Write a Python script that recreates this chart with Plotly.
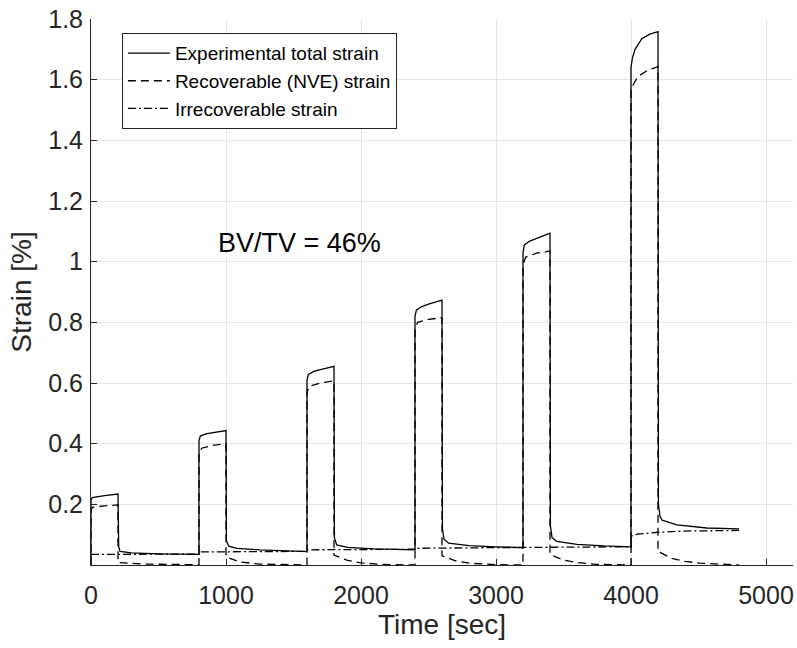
import plotly.graph_objects as go

# ---- data ----
t_total = [0, 0, 10, 50, 100, 200,
           200, 205, 215, 300, 500, 800,
           800, 810, 850, 900, 1000,
           1000, 1003, 1020, 1080, 1250, 1600,
           1600, 1610, 1650, 1700, 1800,
           1800, 1803, 1820, 1900, 2100, 2400,
           2400, 2410, 2450, 2500, 2600,
           2600, 2603, 2615, 2650, 2800, 3000, 3200,
           3200, 3210, 3250, 3300, 3400,
           3400, 3403, 3415, 3450, 3600, 3800, 4000,
           4000, 4010, 4030, 4080, 4140, 4200,
           4200, 4203, 4215, 4230, 4340, 4560, 4800]
e_total = [0.0, 0.215, 0.222, 0.226, 0.229, 0.234,
           0.234, 0.060, 0.045, 0.040, 0.037, 0.035,
           0.41, 0.425, 0.432, 0.436, 0.443,
           0.443, 0.080, 0.062, 0.055, 0.050, 0.044,
           0.61, 0.628, 0.638, 0.644, 0.655,
           0.655, 0.090, 0.066, 0.058, 0.053, 0.050,
           0.82, 0.840, 0.852, 0.860, 0.873,
           0.873, 0.120, 0.085, 0.072, 0.064, 0.060, 0.057,
           1.03, 1.055, 1.068, 1.076, 1.094,
           1.094, 0.130, 0.090, 0.078, 0.068, 0.063, 0.060,
           1.64, 1.670, 1.700, 1.735, 1.750, 1.758,
           1.758, 0.200, 0.160, 0.148, 0.132, 0.122, 0.119]

t_recov = [0, 0, 10, 100, 200,
           200, 400, 800,
           800, 820, 900, 1000,
           1000, 1100, 1250, 1600,
           1600, 1620, 1700, 1800,
           1800, 1900, 2000, 2150, 2400,
           2400, 2420, 2500, 2600,
           2600, 2700, 2800, 3000, 3200,
           3200, 3220, 3300, 3400,
           3400, 3500, 3600, 3750, 4000,
           4000, 4050, 4120, 4200,
           4200, 4300, 4400, 4510, 4650, 4800]
e_recov = [0.0, 0.180, 0.190, 0.195, 0.198,
           0.008, 0.003, 0.001,
           0.370, 0.385, 0.394, 0.400,
           0.027, 0.010, 0.003, 0.0,
           0.570, 0.590, 0.600, 0.607,
           0.033, 0.015, 0.007, 0.002, 0.0,
           0.780, 0.800, 0.810, 0.815,
           0.030, 0.014, 0.006, 0.001, 0.0,
           0.990, 1.015, 1.028, 1.035,
           0.035, 0.016, 0.008, 0.002, 0.0,
           1.570, 1.610, 1.630, 1.643,
           0.045, 0.022, 0.012, 0.006, 0.002, 0.0]

t_irrec = [0, 800, 800, 1600, 1600, 2400, 2400, 3200, 3200, 4000,
           4000, 4050, 4200, 4400, 4800]
e_irrec = [0.035, 0.036, 0.043, 0.045, 0.050, 0.052, 0.055, 0.056, 0.058, 0.060,
           0.095, 0.102, 0.108, 0.112, 0.114]

x_ticks = [0, 1000, 2000, 3000, 4000, 5000]
y_ticks = [0.2, 0.4, 0.6, 0.8, 1.0, 1.2, 1.4, 1.6, 1.8]
y_ticktext = ["0.2", "0.4", "0.6", "0.8", "1", "1.2", "1.4", "1.6", "1.8"]

FONT = "Liberation Sans, Arial, sans-serif"
AX = "#262626"

fig = go.Figure()
fig.add_trace(go.Scatter(x=t_total, y=e_total, mode="lines",
                         name="Experimental total strain",
                         line=dict(color="black", width=1.3)))
fig.add_trace(go.Scatter(x=t_recov, y=e_recov, mode="lines",
                         name="Recoverable (NVE) strain",
                         line=dict(color="black", width=1.3, dash="8px,5px")))
fig.add_trace(go.Scatter(x=t_irrec, y=e_irrec, mode="lines",
                         name="Irrecoverable strain",
                         line=dict(color="black", width=1.3, dash="8px,3px,2px,3px")))

fig.add_annotation(x=1548, y=1.062, xref="x", yref="y", text="BV/TV = 46%",
                   showarrow=False, font=dict(family=FONT, size=27, color="black"))

fig.update_layout(
    width=797, height=648,
    margin=dict(l=91, r=4, t=19, b=83),
    paper_bgcolor="white", plot_bgcolor="white",
    font=dict(family=FONT, color=AX),
    showlegend=True,
    legend=dict(x=0.044, y=0.974, xanchor="left", yanchor="top",
                bgcolor="white", bordercolor=AX, borderwidth=1,
                font=dict(family=FONT, size=19, color="black"),
                itemwidth=42, tracegroupgap=0),
)
fig.update_xaxes(range=[0, 5200], tickvals=x_ticks, ticktext=[str(v) for v in x_ticks],
                 showgrid=True, gridcolor="#e6e6e6", gridwidth=1, zeroline=False,
                 showline=True, linecolor=AX, linewidth=1, mirror=False,
                 ticks="inside", ticklen=6, tickcolor=AX, ticklabelstandoff=8,
                 tickfont=dict(family=FONT, size=25, color=AX),
                 title=dict(text="Time [sec]", font=dict(family=FONT, size=28, color=AX), standoff=4))
fig.update_yaxes(range=[0, 1.8], tickvals=y_ticks, ticktext=y_ticktext,
                 showgrid=True, gridcolor="#e6e6e6", gridwidth=1, zeroline=False,
                 showline=True, linecolor=AX, linewidth=1, mirror=False,
                 ticks="inside", ticklen=6, tickcolor=AX, ticklabelstandoff=2,
                 tickfont=dict(family=FONT, size=25, color=AX),
                 title=dict(text="Strain [%]", font=dict(family=FONT, size=28, color=AX), standoff=8))

fig.write_html("out.html")
